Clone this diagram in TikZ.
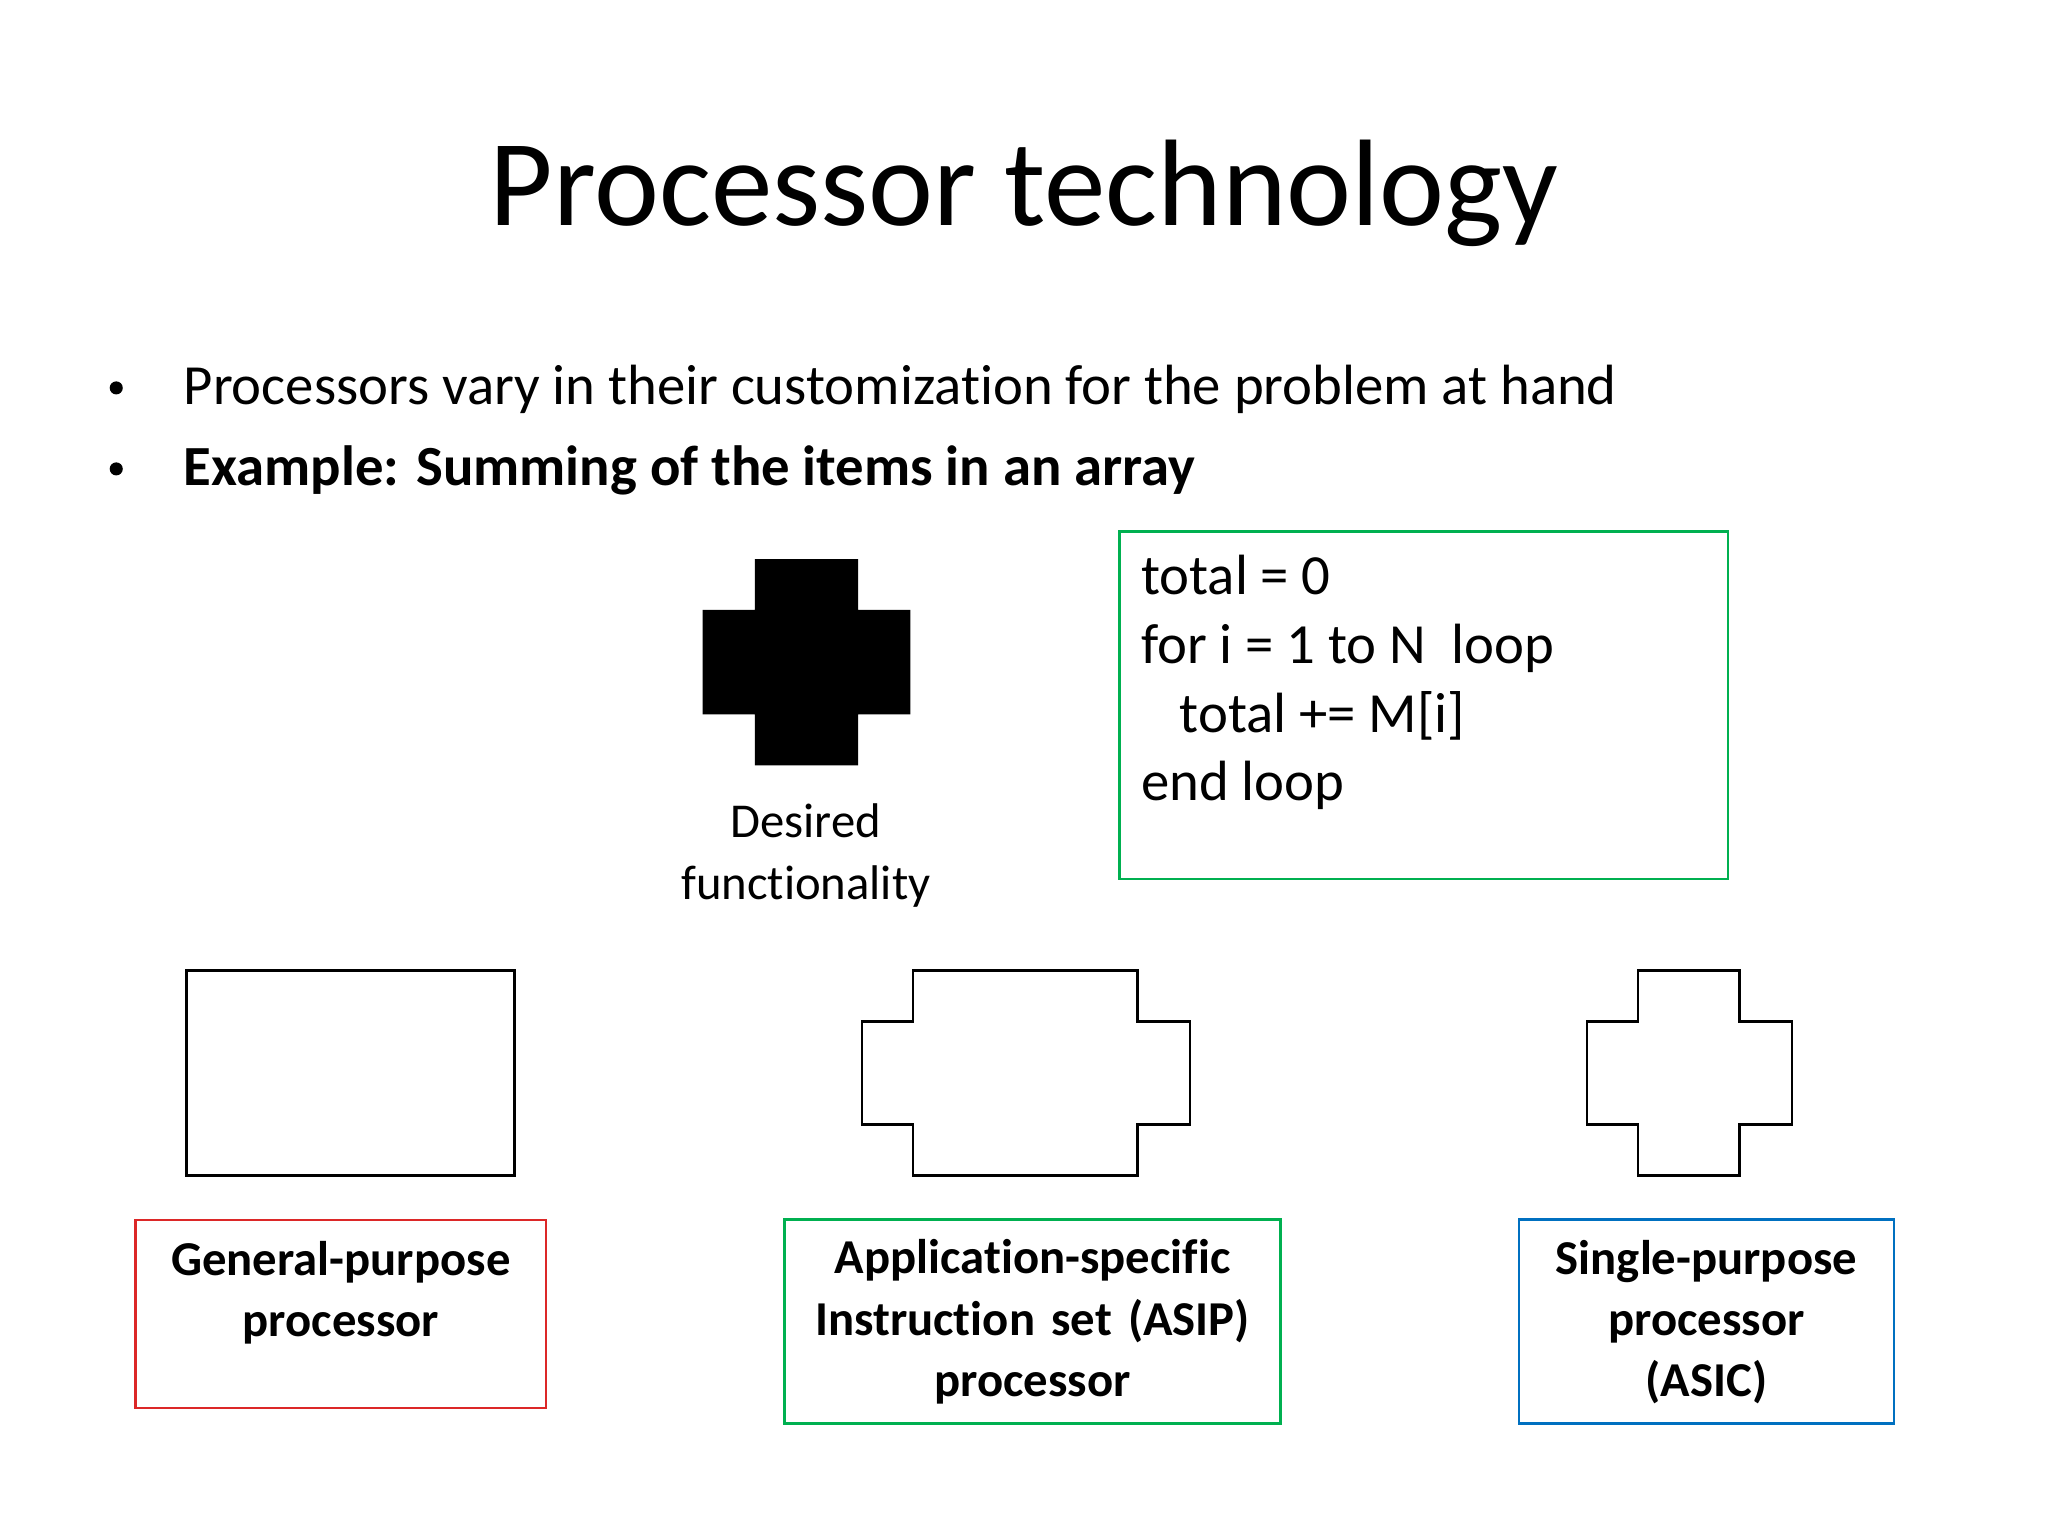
\documentclass[tikz,border=0pt]{standalone}
\usepackage{fontspec}
\setmainfont{Carlito}[Ligatures={NoCommon,TeX}]
\definecolor{gr}{RGB}{0,176,80}
\definecolor{rd}{RGB}{220,40,40}
\definecolor{bl}{RGB}{0,112,192}
\begin{document}
\begin{tikzpicture}[x=0.01cm,y=-0.01cm,
  lab/.style={draw,semithick,align=center,inner sep=0pt,font=\fontsize{10.6pt}{13.3pt}\selectfont\bfseries},
  body/.style={font=\fontsize{12.35pt}{14pt}\selectfont,anchor=base west,inner sep=0pt},
  bul/.style={fill,circle,inner sep=0pt,minimum size=0.1cm},
  shp/.style={draw,line width=0.6pt}]
\useasboundingbox (0,0) rectangle (1568,1176);
\node[font=\fontsize{26.8pt}{30pt}\selectfont] (title) at (784,148) {Processor technology};
\node[bul] (b1) at (89,297) {};
\node[body] (t1) at (140,310) {Processors vary in their customization for the problem at hand};
\node[bul] (b2) at (89,359) {};
\node[body] (t2) at (140,372) {\bfseries Example: Summing of the items in an array};
\fill (578,428) rectangle (657,586) (538,467) rectangle (697,547);
\node[align=center,font=\fontsize{10.6pt}{13.5pt}\selectfont] (df) at (617,655) {Desired\\functionality};
\draw[gr,semithick] (857,407) rectangle (1323,673);
\node[body] (c1) at (873,455) {total = 0};
\node[body] (c2) at (873,508) {for i = 1 to N\ \ loop};
\node[body] (c3) at (873,561) {\ \ \ total += M[i]};
\node[body] (c4) at (873,613) {end loop};
\draw[shp] (143,743) rectangle (394,900);
\draw[shp] (699,743) -- (871,743) -- (871,782) -- (911,782) -- (911,861) -- (871,861) -- (871,900) -- (699,900) -- (699,861) -- (660,861) -- (660,782) -- (699,782) -- cycle;
\draw[shp] (1254,743) -- (1332,743) -- (1332,782) -- (1372,782) -- (1372,861) -- (1332,861) -- (1332,900) -- (1254,900) -- (1254,861) -- (1215,861) -- (1215,782) -- (1254,782) -- cycle;
\draw[rd,semithick] (104,934) rectangle (418,1078);
\node[lab,draw=none] (gp) at (261,990) {General-purpose\\processor};
\node[lab,draw=gr,text width=3.79cm,minimum height=1.56cm] (asip) at (790.5,1012) {Application-specific\\Instruction set (ASIP)\\processor};
\node[lab,draw=bl,text width=2.87cm,minimum height=1.56cm] (asic) at (1306.5,1012) {Single-purpose\\processor\\(ASIC)};
\end{tikzpicture}
\end{document}
